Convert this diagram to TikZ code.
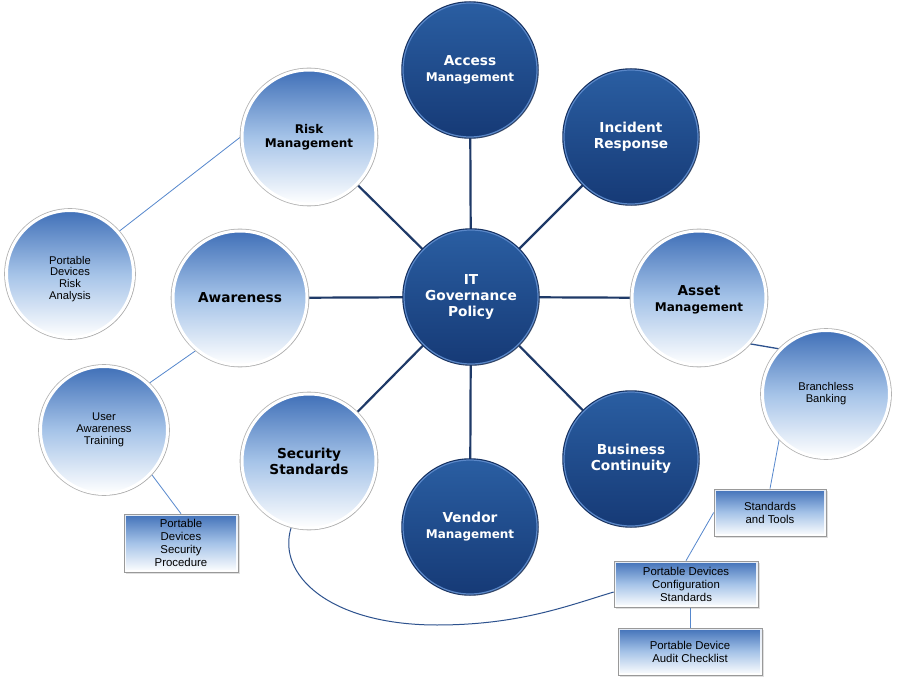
\documentclass[tikz,border=0pt]{standalone}
\usepackage{fontspec}
\setmainfont{DejaVu Sans}
\newfontfamily\smallfont{Liberation Sans}
\usetikzlibrary{shadows,backgrounds}
\definecolor{navy}{RGB}{31,58,104}
\definecolor{dtop}{RGB}{42,94,162}
\definecolor{dbot}{RGB}{22,58,118}
\definecolor{drim}{RGB}{90,135,200}
\definecolor{ltop}{RGB}{64,112,184}
\definecolor{lmid}{RGB}{165,195,232}
\definecolor{thinblue}{RGB}{85,135,205}
\definecolor{midnavy}{RGB}{45,82,142}
\tikzset{
  darkc/.style={circle, minimum size=134pt, inner sep=0pt, align=center, text=white,
    font=\bfseries\fontsize{13.7}{16}\selectfont,
    top color=dtop, bottom color=dbot, draw=drim, line width=1.2pt,
    preaction={draw=dbot!80!black, line width=3.5pt},
    drop shadow={shadow xshift=1.5pt, shadow yshift=-1.5pt, opacity=0.25}},
  lightc/.style={circle, minimum size=134pt, inner sep=0pt, align=center, text=black,
    font=\bfseries\fontsize{13.7}{16}\selectfont,
    top color=ltop, bottom color=white, middle color=lmid, draw=white, line width=3pt,
    preaction={draw=black!30, line width=4.6pt},
    drop shadow={shadow xshift=1.5pt, shadow yshift=-1.5pt, opacity=0.25}},
  smallc/.style={lightc, minimum size=127pt, font=\smallfont\fontsize{11.2}{11.8}\selectfont},
  boxst/.style={rectangle, inner sep=0pt, align=center, text=black,
    font=\smallfont\fontsize{11.4}{13}\selectfont,
    top color=ltop, bottom color=white, middle color=lmid, draw=black!40, line width=0.6pt,
    path picture={\draw[white, line width=4pt, opacity=0.85]
      (path picture bounding box.north west) rectangle (path picture bounding box.south east);},
    drop shadow={shadow xshift=1.5pt, shadow yshift=-1.5pt, opacity=0.25}},
  hub/.style={draw=navy, line width=2.2pt},
  thinln/.style={draw=thinblue, line width=0.8pt}
}
\begin{document}
\begin{tikzpicture}[x=1pt, y=-1pt]
\useasboundingbox (0,0) rectangle (898,682);
% central and dark circles
\node[darkc] (itg) at (471,297) {IT\\Governance\\Policy};
\node[darkc] (acc) at (470,70) {Access\\{\fontsize{12}{14}\selectfont Management}};
\node[darkc] (inc) at (631,137) {Incident\\Response};
\node[darkc] (bus) at (631,459) {Business\\Continuity};
\node[darkc] (ven) at (470,527) {Vendor\\{\fontsize{12}{14}\selectfont Management}};
% light circles
\node[lightc, font=\bfseries\fontsize{12}{14}\selectfont] (risk) at (309,137) {Risk\\Management};
\node[lightc] (awa) at (240,298) {Awareness};
\node[lightc] (sec) at (309,461) {Security\\Standards};
\node[lightc] (ast) at (699,298) {\rule{0pt}{14pt}Asset\\{\fontsize{12}{14}\selectfont Management}};
% small circles
\node[smallc] (pdra) at (70,274) {\rule{0pt}{18pt}Portable\\Devices\\Risk\\Analysis};
\node[smallc] (uat) at (104,430) {User\\Awareness\\Training};
\node[smallc] (bb) at (826,394) {Branchless\\Banking};
% boxes
\node[boxst, minimum width=114pt, minimum height=58pt] (proc) at (181,543) {Portable\\Devices\\Security\\Procedure};
\node[boxst, minimum width=112pt, minimum height=47pt] (st) at (770,512.5) {Standards\\and Tools};
\node[boxst, minimum width=144pt, minimum height=46pt] (cfg) at (686,584) {Portable Devices\\Configuration\\Standards};
\node[boxst, minimum width=144pt, minimum height=47pt] (aud) at (690,651.5) {Portable Device\\Audit Checklist};
\begin{pgfonlayer}{background}
\fill[white] (0,0) rectangle (898,682);
\foreach \n in {acc,inc,ast,bus,ven,sec,awa,risk}
  \draw[hub] (itg) -- (\n);
\draw[thinln] (risk.west) -- (pdra.41);
\draw[thinln] (awa.230) -- (uat.46);
\draw[thinln] (uat.317) -- (proc.north);
\draw[draw=midnavy, line width=1.3pt] (ast.318) -- (bb.136);
\draw[thinln] (bb.224) -- (st.north);
\draw[thinln] (st.west) -- (cfg.north);
\draw[thinln] (aud.north) -- (aud.north |- cfg.south);
\draw[draw=midnavy, line width=1pt] (sec.255) .. controls (276,575) and (330,625) .. (437,625)
  .. controls (520,625) and (570,605) .. ([yshift=-8pt]cfg.west);
\end{pgfonlayer}
\end{tikzpicture}
\end{document}
